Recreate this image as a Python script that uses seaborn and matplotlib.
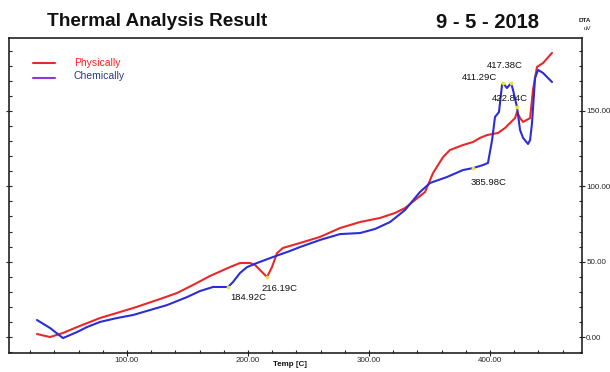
import matplotlib
matplotlib.use("Agg")
import matplotlib.pyplot as plt
from matplotlib.ticker import MultipleLocator, FormatStrFormatter
import seaborn as sns
import pandas as pd

# ---------------- data ----------------
phys_temp = [25.6, 36.4, 47.1, 58.7, 77.7, 105.0, 127.3, 141.3, 154.5, 168.6,
             185.1, 193.4, 201.7, 205.8, 211.6, 215.7, 219.8, 224.0, 228.9, 243.0,
             259.5, 276.0, 292.6, 309.1, 321.5, 329.8, 338.0, 346.3, 352.9, 361.2,
             366.9, 377.7, 386.0, 391.7, 397.5, 406.6, 412.4, 416.5, 420.7, 422.3,
             424.8, 427.3, 433.1, 435.5, 438.8, 443.8, 451.2]
phys_dta = [2.0, 0.0, 2.7, 6.6, 12.6, 19.2, 25.2, 29.2, 34.5, 40.5,
            46.4, 49.1, 49.1, 47.8, 43.1, 39.8, 46.4, 55.7, 59.1, 62.4,
            66.4, 72.3, 76.3, 79.0, 82.3, 85.6, 90.9, 96.2, 108.8, 119.4,
            124.1, 127.4, 129.4, 132.1, 134.0, 135.4, 138.7, 142.0, 145.3, 149.3,
            145.3, 142.7, 145.3, 163.9, 179.2, 181.8, 188.5]

chem_temp = [25.6, 36.4, 47.1, 58.7, 66.9, 77.7, 91.7, 105.0, 119.0, 133.1,
             149.6, 160.3, 171.1, 183.5, 187.6, 193.4, 199.2, 207.4, 220.7, 234.7,
             243.0, 259.5, 276.0, 292.6, 305.0, 317.4, 329.8, 342.1, 350.4, 364.5,
             377.7, 386.0, 394.2, 398.3, 401.7, 404.1, 407.4, 409.9, 410.7, 414.0,
             417.4, 419.0, 422.3, 424.8, 427.3, 431.4, 433.1, 434.7, 437.2, 439.7,
             443.8, 451.2]
chem_dta = [11.3, 6.0, -0.7, 3.3, 6.6, 10.0, 12.6, 14.6, 17.9, 21.2,
            26.5, 30.5, 33.2, 33.2, 36.5, 42.5, 46.4, 49.1, 53.1, 57.1,
            59.7, 64.4, 68.3, 69.0, 71.7, 76.3, 84.3, 96.2, 102.2, 106.2,
            110.8, 112.1, 114.1, 115.5, 130.7, 146.0, 149.3, 167.2, 168.5, 165.2,
            168.5, 163.9, 152.6, 137.4, 132.1, 128.1, 130.7, 142.0, 171.9, 177.2,
            175.2, 169.2]

peak_labels = ["417.38C", "411.29C", "422.84C", "385.98C", "216.19C", "184.92C"]
peak_label_temp = [412.0, 391.0, 416.0, 399.0, 226.0, 200.5]
peak_label_dta = [180.0, 172.0, 158.5, 102.5, 32.0, 26.0]
peak_temp = [417.4, 410.7, 422.3, 386.0, 215.7, 183.5]
peak_dta = [168.5, 168.5, 152.6, 112.1, 39.8, 33.2]

series_names = ["Physically", "Chemically"]
x_ticks = [100, 200, 300, 400]
y_ticks = [0, 50, 100, 150]

# ---------------- figure ----------------
sns.set_style("white")
plt.rcParams['font.family'] = ['Liberation Sans', 'DejaVu Sans']

fig = plt.figure(figsize=(6.10, 3.72), dpi=100)
ax = fig.add_axes([9/610, 1-353/372, (582-9)/610, (353-38)/372])

red = "#e8282a"
blue = "#2c2cd8"

sns.lineplot(x=phys_temp, y=phys_dta, sort=False, estimator=None, color=red,
             linewidth=1.5, ax=ax)
sns.lineplot(x=chem_temp, y=chem_dta, sort=False, estimator=None, color=blue,
             linewidth=1.5, ax=ax)

ax.scatter(peak_temp, peak_dta, s=3, color="#e8e040", zorder=5)
for lab, tx, ty in zip(peak_labels, peak_label_temp, peak_label_dta):
    ax.text(tx, ty, lab, fontsize=6.8, ha="center", va="center", color="#111111")

ax.set_xlim(2.5, 476)
ax.set_ylim(-10.6, 198.4)

ax.xaxis.set_minor_locator(MultipleLocator(20))
ax.yaxis.set_minor_locator(MultipleLocator(10))
ax.set_xticks(x_ticks)
ax.set_yticks(y_ticks)
ax.xaxis.set_major_formatter(FormatStrFormatter("%.2f"))
ax.yaxis.set_major_formatter(FormatStrFormatter("%.2f"))

ax.yaxis.tick_right()
ax.tick_params(axis="both", which="major", direction="inout", length=4,
               width=0.8, labelsize=5.8, pad=1.0, color="#222222")
ax.tick_params(axis="both", which="minor", direction="in", length=2.5,
               width=0.8, color="#222222")
ax.tick_params(axis="y", which="both", left=True, right=True,
               labelleft=False, labelright=True)
ax.tick_params(axis="x", which="both", top=False, bottom=True)

for s in ax.spines.values():
    s.set_color("#222222")
    s.set_linewidth(1.2)

ax.set_xlabel("")
ax.set_ylabel("")
fig.text(290/610, 1-365/372, "Temp [C]", fontsize=5.8, fontweight="bold",
         ha="center", va="center", color="#111111")

# legend drawn as in the reference
ax.plot([(33-9)/573, (55-9)/573], [1-(63-38)/315]*2, transform=ax.transAxes,
        color=red, linewidth=1.5)
ax.plot([(33-9)/573, (55-9)/573], [1-(78-38)/315]*2, transform=ax.transAxes,
        color="#8a3ad6", linewidth=1.5)
ax.text((74-9)/573, 1-(63-38)/315, series_names[0], transform=ax.transAxes,
        fontsize=7.5, color="#ff2020", va="center", ha="left")
ax.text((74-9)/573, 1-(76-38)/315, series_names[1], transform=ax.transAxes,
        fontsize=7.5, color="#2a3a80", va="center", ha="left")

fig.text(47/610, 1-22/372, "Thermal Analysis Result", fontsize=13.7,
         fontweight="bold", ha="left", va="center", color="#111111")
fig.text(488/610, 1-22/372, "9 - 5 - 2018", fontsize=14.5,
         fontweight="bold", ha="center", va="center", color="#111111")
fig.text(585/610, 1-20/372, "DTA", fontsize=4.5, fontweight="bold",
         ha="center", va="center", color="#222222")
fig.text(587/610, 1-28/372, "uV", fontsize=4.5, ha="center", va="center",
         color="#222222")

fig.savefig("out.png", dpi=100)
